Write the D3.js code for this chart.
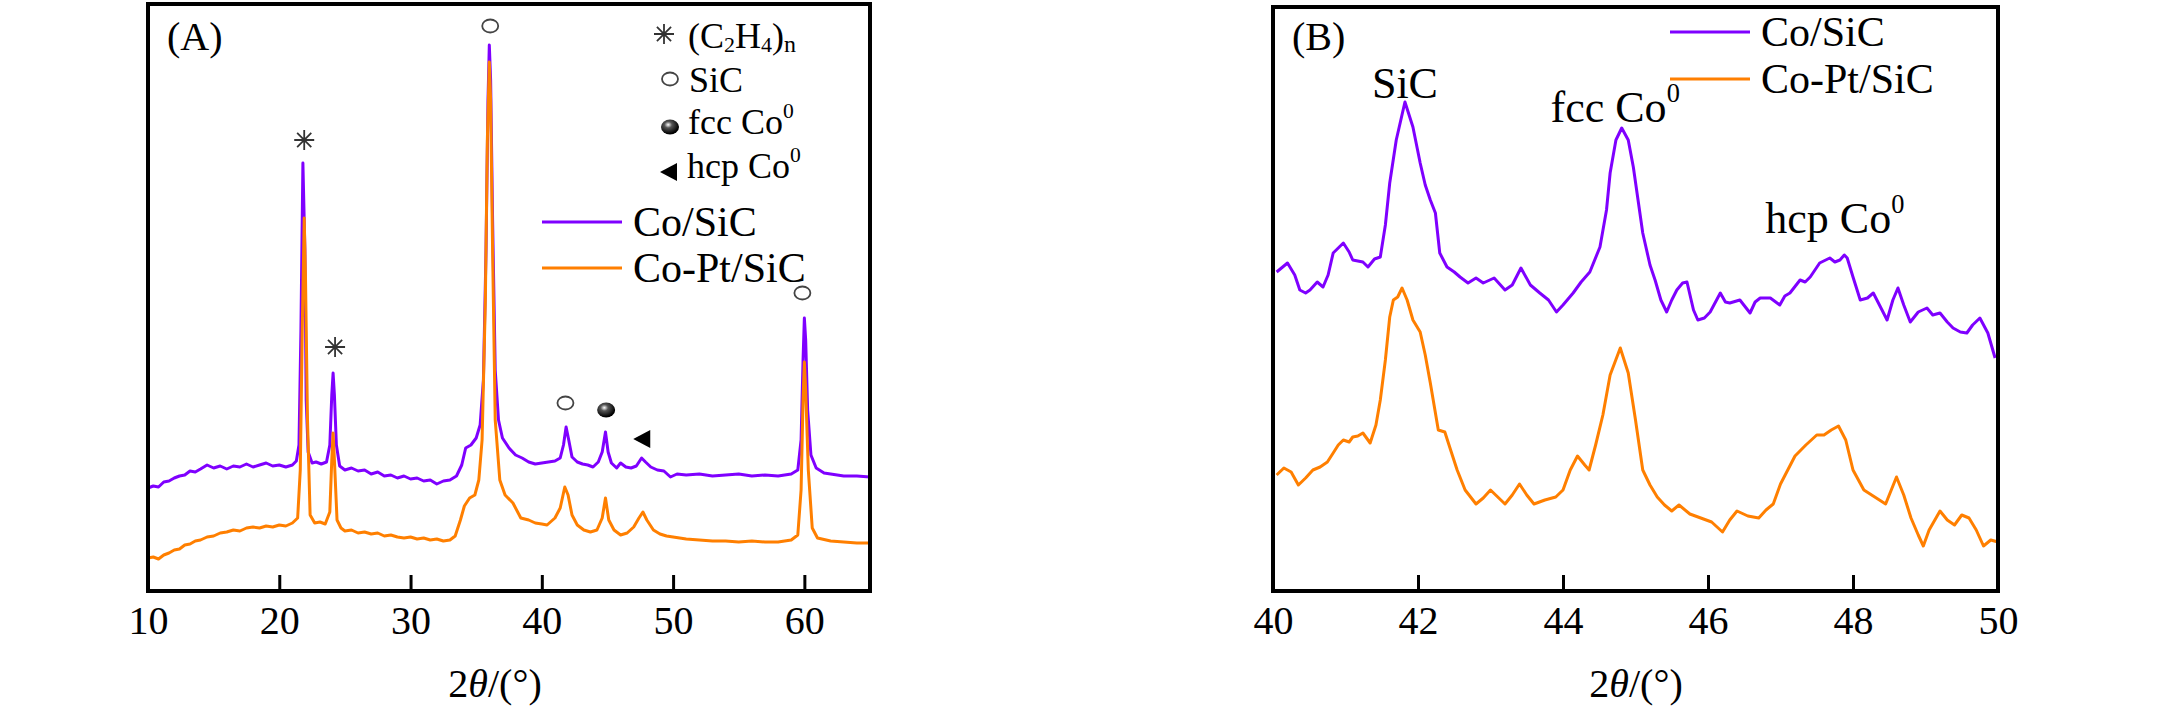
<!DOCTYPE html>
<html>
<head>
<meta charset="utf-8">
<script src="https://cdn.jsdelivr.net/npm/d3@7"></script>
<style>
  body { margin: 0; background: #fff; }
  svg text { font-family: "Liberation Serif", "Times New Roman", serif; fill: #000; }
</style>
</head>
<body>
<svg id="chart" width="2167" height="724"></svg>
<script>
// ---- data: [2theta (deg), intensity (a.u.)] ----
const coSicA = [
  [10.0, 103], [10.4, 105], [10.8, 104], [11.2, 109], [11.6, 110], [12.0, 113], [12.4, 115], [12.8, 116],
  [13.2, 120], [13.6, 119], [14.0, 122], [14.5, 126], [15.0, 123], [15.5, 125], [16.0, 122], [16.5, 125],
  [17.0, 124], [17.5, 127], [18.0, 124], [18.5, 126], [19.0, 128], [19.5, 125], [20.0, 126], [20.5, 124],
  [21.0, 126], [21.3, 130], [21.5, 146], [21.65, 261], [21.8, 428], [21.95, 341], [22.05, 191], [22.2, 139],
  [22.5, 128], [22.8, 129], [23.2, 127], [23.6, 129], [23.85, 146], [24.0, 196], [24.1, 218], [24.2, 196],
  [24.35, 146], [24.6, 125], [25.0, 121], [25.5, 123], [26.0, 120], [26.5, 121], [27.0, 117], [27.5, 119],
  [28.0, 115], [28.5, 116], [29.0, 113], [29.5, 115], [30.0, 112], [30.5, 113], [31.0, 110], [31.5, 111],
  [32.0, 107], [32.5, 110], [33.0, 111], [33.5, 115], [33.9, 126], [34.2, 143], [34.6, 146], [35.0, 153],
  [35.3, 166], [35.55, 211], [35.75, 341], [35.9, 491], [36.0, 546], [36.1, 511], [36.25, 371], [36.45, 221],
  [36.7, 171], [37.0, 153], [37.5, 143], [38.0, 136], [38.5, 133], [39.0, 129], [39.5, 127], [40.0, 128],
  [40.5, 129], [41.0, 130], [41.4, 133], [41.65, 146], [41.85, 164], [42.05, 151], [42.3, 134], [42.7, 129],
  [43.1, 127], [43.5, 126], [43.9, 124], [44.3, 129], [44.6, 139], [44.85, 159], [45.05, 139], [45.3, 128],
  [45.7, 123], [46.0, 128], [46.4, 124], [46.8, 123], [47.2, 125], [47.6, 133], [47.9, 129], [48.3, 124],
  [48.8, 121], [49.3, 120], [49.8, 114], [50.3, 117], [51.0, 116], [52.0, 117], [53.0, 115], [54.0, 116],
  [55.0, 117], [56.0, 115], [57.0, 116], [58.0, 115], [59.0, 117], [59.5, 121], [59.75, 151], [59.9, 231],
  [60.0, 273], [60.1, 251], [60.25, 181], [60.5, 136], [60.9, 123], [61.5, 118], [62.0, 117], [63.0, 115],
  [64.0, 115], [65.0, 114]
]
const coPtSicA = [
  [10.0, 33], [10.4, 34], [10.8, 32], [11.2, 36], [11.6, 38], [12.0, 41], [12.4, 42], [12.8, 46],
  [13.2, 47], [13.6, 50], [14.0, 51], [14.5, 54], [15.0, 55], [15.5, 58], [16.0, 59], [16.5, 61],
  [17.0, 60], [17.5, 63], [18.0, 64], [18.5, 63], [19.0, 65], [19.5, 64], [20.0, 66], [20.5, 65],
  [21.0, 68], [21.4, 73], [21.6, 121], [21.75, 261], [21.9, 373], [22.0, 311], [22.15, 171], [22.35, 76],
  [22.7, 68], [23.1, 69], [23.5, 67], [23.85, 79], [24.0, 131], [24.1, 158], [24.2, 131], [24.4, 71],
  [24.7, 63], [25.0, 60], [25.5, 61], [26.0, 58], [26.5, 59], [27.0, 57], [27.5, 58], [28.0, 55],
  [28.5, 56], [29.0, 54], [29.5, 53], [30.0, 54], [30.5, 52], [31.0, 53], [31.5, 51], [32.0, 52],
  [32.5, 50], [33.0, 51], [33.4, 55], [33.8, 71], [34.1, 85], [34.5, 93], [34.9, 96], [35.2, 111],
  [35.45, 151], [35.7, 291], [35.85, 451], [36.0, 529], [36.1, 491], [36.25, 341], [36.45, 171], [36.8, 111],
  [37.2, 96], [37.8, 88], [38.4, 73], [39.0, 71], [39.5, 68], [40.0, 67], [40.4, 66], [41.0, 73],
  [41.4, 83], [41.75, 104], [42.0, 96], [42.3, 76], [42.7, 66], [43.2, 61], [43.7, 59], [44.2, 61],
  [44.6, 73], [44.85, 93], [45.1, 71], [45.5, 61], [46.0, 56], [46.5, 58], [47.0, 64], [47.4, 73],
  [47.7, 79], [48.0, 71], [48.5, 61], [49.0, 57], [49.5, 55], [50.0, 54], [51.0, 52], [52.0, 51],
  [53.0, 50], [54.0, 50], [55.0, 49], [56.0, 50], [57.0, 49], [58.0, 49], [59.0, 51], [59.5, 56],
  [59.75, 101], [59.9, 191], [60.0, 229], [60.1, 201], [60.3, 121], [60.6, 63], [61.0, 53], [62.0, 50],
  [63.0, 49], [64.0, 48], [65.0, 48]
]
const coSicB = [
  [40.05, 319], [40.2, 328], [40.3, 316], [40.37, 301], [40.45, 298], [40.51, 301], [40.61, 309], [40.69, 304],
  [40.76, 316], [40.83, 338], [40.97, 348], [41.05, 339], [41.1, 331], [41.17, 330], [41.24, 329], [41.31, 324],
  [41.4, 332], [41.48, 334], [41.55, 366], [41.61, 408], [41.7, 451], [41.82, 489], [41.93, 464], [42.03, 428],
  [42.1, 406], [42.17, 391], [42.24, 378], [42.3, 338], [42.4, 324], [42.5, 319], [42.58, 314], [42.69, 308],
  [42.8, 313], [42.9, 308], [43.05, 313], [43.2, 301], [43.3, 306], [43.42, 323], [43.55, 306], [43.68, 298],
  [43.8, 291], [43.91, 279], [44.0, 286], [44.14, 298], [44.25, 309], [44.37, 319], [44.51, 344], [44.6, 381],
  [44.65, 418], [44.73, 451], [44.81, 463], [44.9, 451], [44.97, 424], [45.1, 358], [45.2, 326], [45.27, 311],
  [45.35, 291], [45.43, 279], [45.5, 291], [45.57, 301], [45.65, 308], [45.71, 309], [45.8, 281], [45.86, 271],
  [45.95, 273], [46.03, 279], [46.17, 298], [46.24, 289], [46.3, 288], [46.44, 291], [46.58, 278], [46.65, 289],
  [46.72, 293], [46.86, 293], [46.99, 286], [47.06, 295], [47.13, 298], [47.27, 311], [47.34, 309], [47.41, 314],
  [47.54, 328], [47.68, 333], [47.75, 329], [47.82, 331], [47.88, 336], [47.92, 333], [48.0, 314], [48.1, 291],
  [48.2, 293], [48.28, 298], [48.4, 281], [48.47, 271], [48.55, 291], [48.62, 303], [48.7, 286], [48.79, 269],
  [48.9, 279], [49.02, 283], [49.1, 276], [49.2, 278], [49.3, 269], [49.38, 263], [49.48, 259], [49.57, 258],
  [49.65, 266], [49.75, 273], [49.86, 258], [49.96, 233]
]
const coPtSicB = [
  [40.05, 116], [40.15, 123], [40.25, 119], [40.35, 106], [40.45, 113], [40.55, 121], [40.65, 124], [40.75, 129],
  [40.83, 138], [40.9, 146], [40.97, 151], [41.05, 149], [41.1, 154], [41.17, 155], [41.24, 158], [41.34, 148],
  [41.42, 166], [41.48, 191], [41.55, 231], [41.61, 274], [41.66, 291], [41.72, 294], [41.78, 303], [41.85, 291],
  [41.93, 271], [42.03, 259], [42.1, 236], [42.17, 208], [42.28, 161], [42.37, 159], [42.45, 141], [42.54, 121],
  [42.65, 101], [42.8, 87], [42.9, 93], [43.0, 101], [43.1, 94], [43.2, 87], [43.3, 96], [43.4, 107],
  [43.5, 96], [43.6, 87], [43.75, 91], [43.9, 94], [44.0, 101], [44.1, 121], [44.2, 135], [44.3, 126],
  [44.36, 121], [44.45, 146], [44.55, 176], [44.65, 216], [44.79, 243], [44.9, 218], [45.0, 171], [45.1, 121],
  [45.2, 106], [45.3, 94], [45.4, 86], [45.5, 80], [45.6, 86], [45.75, 77], [45.9, 73], [46.05, 69],
  [46.2, 59], [46.3, 71], [46.4, 80], [46.55, 75], [46.7, 73], [46.8, 81], [46.9, 87], [47.0, 107],
  [47.1, 121], [47.2, 135], [47.35, 146], [47.5, 156], [47.6, 156], [47.7, 161], [47.8, 165], [47.9, 151],
  [48.0, 121], [48.15, 101], [48.3, 94], [48.45, 87], [48.6, 114], [48.7, 96], [48.8, 73], [48.9, 56],
  [48.97, 45], [49.05, 61], [49.2, 80], [49.3, 71], [49.4, 66], [49.5, 76], [49.6, 73], [49.7, 61],
  [49.8, 45], [49.9, 51], [50.0, 49]
]

const ticksA = [10, 20, 30, 40, 50, 60]
const ticksB = [40, 42, 44, 46, 48, 50]
const seriesNames = ['Co/SiC', 'Co-Pt/SiC']
const seriesColors = ['#7f00ff', '#ff7f00']

// phase markers above the peaks in (A): [2theta, intensity]
const markAsterisk = [[21.9, 451], [24.25, 244]]
const markCircle = [[36.07, 565], [41.8, 188], [59.85, 298]]
const markBall = [[44.9, 181]]
const markTriangle = [[47.65, 152]]

// peak labels in (B): [text, 2theta, intensity]
const labelsB = [['SiC', 41.82, 493], ['fcc Co', 44.72, 469], ['hcp Co', 47.75, 358]]

const svg = d3.select('#chart')
const defs = svg.append('defs')
const grad = defs.append('radialGradient').attr('id', 'ball')
  .attr('cx', '40%').attr('cy', '35%').attr('r', '60%')
grad.append('stop').attr('offset', '0%').attr('stop-color', '#ffffff')
grad.append('stop').attr('offset', '35%').attr('stop-color', '#555')
grad.append('stop').attr('offset', '100%').attr('stop-color', '#000')

const frameBottom = 591 // bottom of both frames (intensity 0)

function panel (opts) {
  const x = d3.scaleLinear().domain(opts.xDomain).range([opts.left, opts.right])
  const y = d3.scaleLinear().domain([0, frameBottom - opts.top]).range([frameBottom, opts.top])
  const g = svg.append('g')

  const line = d3.line().x(d => x(d[0])).y(d => y(d[1]))
  opts.series.forEach(function (s, i) {
    g.append('path')
      .datum(s)
      .attr('fill', 'none')
      .attr('stroke', seriesColors[i])
      .attr('stroke-width', 3)
      .attr('stroke-linejoin', 'round')
      .attr('d', line)
  })

  // x-axis, ticks pointing inward
  const ax = g.append('g')
    .attr('transform', 'translate(0,' + frameBottom + ')')
    .call(d3.axisBottom(x).tickValues(opts.ticks).tickSizeInner(-16).tickSizeOuter(0).tickPadding(15))
  ax.select('.domain').remove()
  ax.selectAll('.tick line').attr('stroke', '#000').attr('stroke-width', 3)
  ax.selectAll('.tick text')
    .attr('font-size', 40)
    .attr('font-family', '"Liberation Serif", serif')

  // frame
  g.append('rect')
    .attr('x', opts.left).attr('y', opts.top)
    .attr('width', opts.right - opts.left).attr('height', frameBottom - opts.top)
    .attr('fill', 'none').attr('stroke', '#000').attr('stroke-width', 4)

  // axis title
  const t = g.append('text')
    .attr('x', opts.titleX).attr('y', 697)
    .attr('text-anchor', 'middle').attr('font-size', 40)
  t.append('tspan').text('2')
  t.append('tspan').attr('font-style', 'italic').text('θ')
  t.append('tspan').text('/(°)')

  // panel letter
  g.append('text').attr('x', opts.left + 19).attr('y', 50)
    .attr('font-size', 40).text(opts.letter)

  return { g: g, x: x, y: y }
}

function asterisk (g, cx, cy, r) {
  const p = d3.path()
  for (let k = 0; k < 4; k++) {
    const a = k * Math.PI / 4
    p.moveTo(cx - r * Math.cos(a), cy - r * Math.sin(a))
    p.lineTo(cx + r * Math.cos(a), cy + r * Math.sin(a))
  }
  g.append('path').attr('d', p.toString()).attr('stroke', '#333').attr('stroke-width', 1.8).attr('fill', 'none')
}
function circleMark (g, cx, cy) {
  g.append('ellipse').attr('cx', cx).attr('cy', cy).attr('rx', 8).attr('ry', 6.5)
    .attr('fill', 'none').attr('stroke', '#444').attr('stroke-width', 1.8)
}
function ballMark (g, cx, cy) {
  g.append('ellipse').attr('cx', cx).attr('cy', cy).attr('rx', 9).attr('ry', 7.5)
    .attr('fill', 'url(#ball)')
}
function triMark (g, cx, cy) {
  g.append('path')
    .attr('d', 'M' + (cx - 9) + ',' + cy + 'L' + (cx + 8) + ',' + (cy - 9) + 'L' + (cx + 8) + ',' + (cy + 9) + 'Z')
    .attr('fill', '#000')
}
function coZero (sel, base) {
  sel.append('tspan').text(base)
  sel.append('tspan').attr('font-size', '0.6em').attr('dy', '-0.75em').text('0')
}

// ---- panel A ----
const A = panel({
  xDomain: [10, 65], left: 148, right: 870, top: 4, ticks: ticksA,
  series: [coSicA, coPtSicA], titleX: 495, letter: '(A)'
})
markAsterisk.forEach(d => asterisk(A.g, A.x(d[0]), A.y(d[1]), 10))
markCircle.forEach(d => circleMark(A.g, A.x(d[0]), A.y(d[1])))
markBall.forEach(d => ballMark(A.g, A.x(d[0]), A.y(d[1])))
markTriangle.forEach(d => triMark(A.g, A.x(d[0]), A.y(d[1])))

// phase legend
asterisk(A.g, 664, 34, 10)
circleMark(A.g, 670, 79)
ballMark(A.g, 670, 127)
triMark(A.g, 669, 172)
const lt = A.g.append('text').attr('x', 688).attr('y', 48).attr('font-size', 36)
lt.append('tspan').text('(C')
lt.append('tspan').attr('font-size', 22).attr('dy', 4).text('2')
lt.append('tspan').attr('dy', -4).text('H')
lt.append('tspan').attr('font-size', 22).attr('dy', 4).text('4')
lt.append('tspan').attr('dy', -4).text(')')
lt.append('tspan').attr('font-size', 24).attr('dy', 4).text('n')
A.g.append('text').attr('x', 689).attr('y', 92).attr('font-size', 36).text('SiC')
coZero(A.g.append('text').attr('x', 688).attr('y', 134).attr('font-size', 36), 'fcc Co')
coZero(A.g.append('text').attr('x', 687).attr('y', 178).attr('font-size', 36), 'hcp Co')

function seriesLegend (g, x0, y0, dy) {
  seriesNames.forEach(function (n, i) {
    g.append('line')
      .attr('x1', x0).attr('x2', x0 + 80)
      .attr('y1', y0 + i * dy).attr('y2', y0 + i * dy)
      .attr('stroke', seriesColors[i]).attr('stroke-width', 3)
    g.append('text').attr('x', x0 + 91).attr('y', y0 + i * dy + 14)
      .attr('font-size', 42).text(n)
  })
}
seriesLegend(A.g, 542, 222, 46)

// ---- panel B ----
const B = panel({
  xDomain: [40, 50], left: 1273, right: 1998, top: 7, ticks: ticksB,
  series: [coSicB, coPtSicB], titleX: 1636, letter: '(B)'
})
labelsB.forEach(function (d) {
  const t = B.g.append('text')
    .attr('x', B.x(d[1])).attr('y', B.y(d[2]))
    .attr('text-anchor', 'middle').attr('font-size', 44)
  if (d[0] === 'SiC') t.text(d[0])
  else coZero(t, d[0])
})
seriesLegend(B.g, 1670, 32, 47)
</script>
</body>
</html>
